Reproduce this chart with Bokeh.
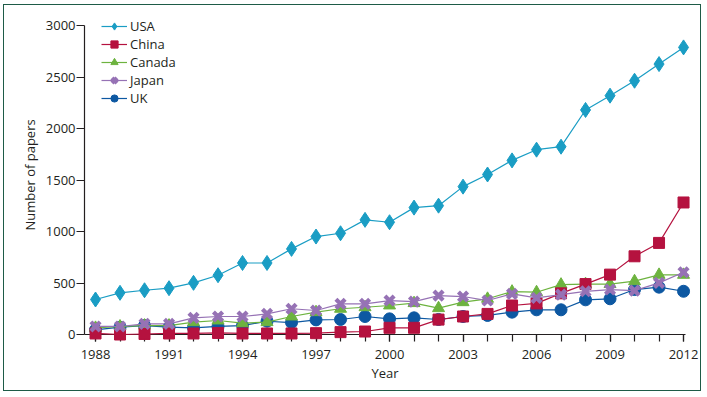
from bokeh.plotting import figure
from bokeh.models import FixedTicker, Range1d, Legend, LegendItem
from bokeh.embed import file_html
from bokeh.resources import INLINE

years = list(range(1988, 2013))
usa = [340, 405, 430, 450, 502, 576, 695, 695, 832, 952, 984, 1114, 1091, 1233, 1252,
       1437, 1555, 1692, 1796, 1825, 2182, 2321, 2466, 2628, 2790]
china = [10, 0, 5, 10, 10, 15, 10, 10, 10, 13, 23, 29, 65, 65, 145,
         175, 200, 282, 302, 400, 490, 582, 760, 890, 1283]
canada = [65, 78, 87, 87, 120, 136, 110, 120, 175, 217, 250, 265, 282, 305, 256,
          314, 347, 417, 411, 485, 490, 490, 518, 580, 580]
japan = [78, 78, 104, 104, 162, 175, 175, 200, 250, 233, 298, 298, 330, 320, 378,
         369, 330, 395, 356, 388, 420, 437, 427, 502, 605]
uk = [45, 71, 87, 71, 65, 78, 87, 129, 116, 142, 146, 175, 152, 162, 146,
      175, 185, 217, 240, 240, 337, 347, 437, 460, 420]

x_ticks = [1988, 1991, 1994, 1997, 2000, 2003, 2006, 2009, 2012]
y_ticks = [0, 500, 1000, 1500, 2000, 2500, 3000]

FONT = "Open Sans"
TXT = "#231f20"

p = figure(frame_width=601, frame_height=319, output_backend="svg", toolbar_location=None,
           x_range=Range1d(1987.55, 2012.08), y_range=Range1d(0, 3100),
           min_border_left=80, min_border_right=15, min_border_top=10, min_border_bottom=56,
           background_fill_color="white", border_fill_color="white")
p.outline_line_color = None
p.grid.visible = False

series = [
    ("USA", usa, "#1a9dc4", "diamond", 15),
    ("UK", uk, "#0d58a2", "circle", 12),
    ("Canada", canada, "#6db33f", "triangle", 12),
    ("China", china, "#b5123f", "square", 11),
    ("Japan", japan, "#9672b5", "x", 13),
]
items = {}
for name, vals, col, mk, sz in series:
    l = p.line(years, vals, line_color=col, line_width=1.2, level="overlay")
    if mk == "x":
        s = p.scatter(years, vals, marker="x", size=sz, line_color=col, line_width=4.2, level="overlay")
    else:
        s = p.scatter(years, vals, marker=mk, size=sz, fill_color=col, line_color=col,
                      line_width=1, level="overlay")
    items[name] = [l, s]

legend = Legend(items=[LegendItem(label=n, renderers=items[n]) for n in ["USA", "China", "Canada", "Japan", "UK"]],
                location=(17, 227), orientation="vertical")
legend.background_fill_alpha = 0
legend.border_line_color = None
legend.padding = 0
legend.margin = 0
legend.spacing = 0
legend.glyph_width = 26
legend.glyph_height = 18
legend.label_height = 18
legend.label_standoff = 3
legend.label_text_font = FONT
legend.label_text_font_size = "13px"
legend.label_text_color = TXT
p.add_layout(legend, "center")

xa = p.xaxis[0]
xa.ticker = FixedTicker(ticks=x_ticks, minor_ticks=years)
xa.axis_label = "Year"
ya = p.yaxis[0]
ya.ticker = FixedTicker(ticks=y_ticks)
ya.bounds = (0, 3000)
ya.axis_label = "Number of papers"
for ax in (xa, ya):
    ax.axis_line_color = "#231f20"
    ax.axis_line_width = 1.2
    ax.major_tick_line_color = "#231f20"
    ax.major_tick_line_width = 1.2
    ax.major_tick_in = 0
    ax.major_tick_out = 7
    ax.minor_tick_line_color = "#231f20"
    ax.minor_tick_line_width = 1.2
    ax.minor_tick_in = 0
    ax.minor_tick_out = 7
    ax.major_label_text_font = FONT
    ax.major_label_text_font_size = "13px"
    ax.major_label_text_color = TXT
    ax.axis_label_text_font = FONT
    ax.axis_label_text_font_size = "13px"
    ax.axis_label_text_font_style = "normal"
    ax.axis_label_text_color = TXT
ya.major_tick_out = 8
xa.major_label_standoff = 8
xa.axis_label_standoff = 2
ya.major_label_standoff = 1
ya.axis_label_standoff = 4
ya.minor_tick_line_color = None

p.styles = {"border": "1.5px solid #1e5b47", "margin-left": "3px", "margin-top": "3.5px"}

open("out.html", "w").write(file_html(p, INLINE))
